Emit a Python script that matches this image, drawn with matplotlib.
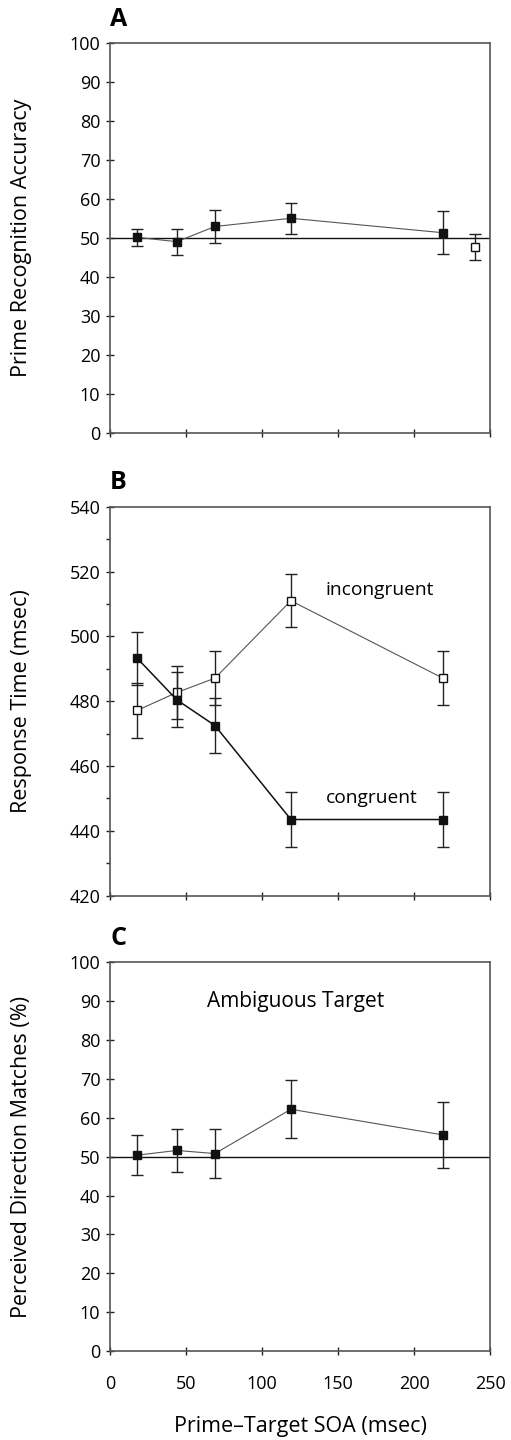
import matplotlib.pyplot as plt
from matplotlib.ticker import MultipleLocator

plt.rcParams['font.family'] = ['Open Sans', 'DejaVu Sans']

# SOA values (msec)
soa = [18, 44, 69, 119, 219]

# Panel A: prime recognition accuracy
acc_mean = [50.2, 49.1, 53.0, 55.1, 51.4]
acc_err = [2.2, 3.3, 4.2, 3.9, 5.5]
acc_ctrl_x = [240]
acc_ctrl_mean = [47.8]
acc_ctrl_err = [3.4]

# Panel B: response times
rt_congruent = [493.2, 480.4, 472.5, 443.5, 443.5]
rt_congruent_err = [8.2, 8.5, 8.5, 8.5, 8.5]
rt_incongruent = [477.2, 482.7, 487.1, 511.0, 487.1]
rt_incongruent_err = [8.5, 8.1, 8.3, 8.2, 8.4]

# Panel C: perceived direction matches
match_mean = [50.4, 51.6, 50.8, 62.2, 55.6]
match_err = [5.2, 5.5, 6.3, 7.5, 8.5]

fig = plt.figure(figsize=(5.11, 14.4), dpi=100)

L, W = 0.2153, 0.7437
axA = fig.add_axes([L, 0.6993, W, 0.2706])
axB = fig.add_axes([L, 0.3780, W, 0.2701])
axC = fig.add_axes([L, 0.0618, W, 0.2699])

eb = dict(ecolor='#222222', elinewidth=1.0, capsize=4.5, capthick=1.0)


def style(ax, label):
    for s in ax.spines.values():
        s.set_color('#555555')
        s.set_linewidth(1.2)
    ax.set_xlim(0, 250)
    ax.xaxis.set_major_locator(MultipleLocator(50))
    ax.tick_params(axis='both', which='major', direction='inout', length=6,
                   width=1.0, color='#222222', labelsize=13, pad=4)
    ax.tick_params(top=False, right=False)
    ax.set_ylabel(label, fontsize=15.5)
    ax.yaxis.set_label_coords(-0.205, 0.5)


# ---- A ----
axA.axhline(50, color='#111111', lw=1.0, zorder=1)
axA.errorbar(soa, acc_mean, yerr=acc_err, color='#555555', lw=0.8,
             marker='s', ms=5.5, mfc='#111111', mec='#111111', zorder=3, **eb)
axA.errorbar(acc_ctrl_x, acc_ctrl_mean, yerr=acc_ctrl_err, ls='none',
             marker='s', ms=5.5, mfc='white', mec='#111111', mew=1.0, zorder=3, **eb)
style(axA, 'Prime Recognition Accuracy')
axA.set_ylim(0, 100)
axA.yaxis.set_major_locator(MultipleLocator(10))
axA.set_xticklabels([])
axA.text(0.0, 1.03, 'A', transform=axA.transAxes, fontsize=18,
         fontweight='bold', ha='left', va='bottom')

# ---- B ----
axB.errorbar(soa, rt_incongruent, yerr=rt_incongruent_err, color='#555555', lw=0.8,
             marker='s', ms=5.5, mfc='white', mec='#111111', mew=1.0, zorder=3, **eb)
axB.errorbar(soa, rt_congruent, yerr=rt_congruent_err, color='#111111', lw=1.1,
             marker='s', ms=5.5, mfc='#111111', mec='#111111', zorder=4, **eb)
style(axB, 'Response Time (msec)')
axB.set_ylim(420, 540)
axB.yaxis.set_major_locator(MultipleLocator(20))
axB.yaxis.set_minor_locator(MultipleLocator(10))
axB.tick_params(axis='y', which='minor', direction='out', length=3,
                width=1.0, color='#222222', right=False)
axB.set_xticklabels([])
axB.text(142, 514.3, 'incongruent', fontsize=13.8, ha='left', va='center')
axB.text(142, 450.2, 'congruent', fontsize=13.8, ha='left', va='center')
axB.text(0.0, 1.03, 'B', transform=axB.transAxes, fontsize=18,
         fontweight='bold', ha='left', va='bottom')

# ---- C ----
axC.axhline(50, color='#111111', lw=1.0, zorder=1)
axC.errorbar(soa, match_mean, yerr=match_err, color='#555555', lw=0.8,
             marker='s', ms=5.5, mfc='#111111', mec='#111111', zorder=3, **eb)
style(axC, 'Perceived Direction Matches (%)')
axC.set_ylim(0, 100)
axC.yaxis.set_major_locator(MultipleLocator(10))
axC.tick_params(axis='x', pad=14)
axC.set_xlabel('Prime\u2013Target SOA (msec)', fontsize=15.5, labelpad=17)
axC.text(122, 90, 'Ambiguous Target', fontsize=15, ha='center', va='center')
axC.text(0.0, 1.03, 'C', transform=axC.transAxes, fontsize=18,
         fontweight='bold', ha='left', va='bottom')

fig.savefig('out.png', dpi=100)
